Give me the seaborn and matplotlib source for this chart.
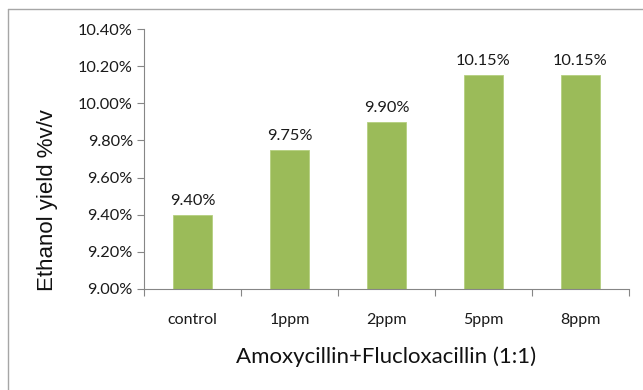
import matplotlib
matplotlib.use("Agg")
import matplotlib.pyplot as plt
from matplotlib.lines import Line2D
from matplotlib.ticker import FuncFormatter, MultipleLocator
import seaborn as sns
import pandas as pd

# Ethanol yield by antibiotic dose
categories = ["control", "1ppm", "2ppm", "5ppm", "8ppm"]
yield_pct = [9.40, 9.75, 9.90, 10.15, 10.15]
value_labels = ["9.40%", "9.75%", "9.90%", "10.15%", "10.15%"]

df = pd.DataFrame({"dose": categories, "yield": yield_pct})

sns.set_theme(style="white")
plt.rcParams["font.family"] = ["Lato", "DejaVu Sans"]

fig = plt.figure(figsize=(6.43, 3.90), dpi=100)
ax = fig.add_axes([144 / 643, 1 - 289 / 390, (629 - 144) / 643, (289 - 29) / 390])

bar_color = "#9BBB59"
sns.barplot(data=df, x="dose", y="yield", color=bar_color, width=0.4,
            saturation=1, ax=ax, edgecolor="#B5CF7F", linewidth=0.6)

ax.set_ylim(9.0, 10.4)
ax.set_xlim(-0.5, len(categories) - 0.5)
ax.yaxis.set_major_locator(MultipleLocator(0.2))
ax.yaxis.set_major_formatter(FuncFormatter(lambda v, p: f"{v:.2f}%"))

# value annotations above each bar
for i, (v, txt) in enumerate(zip(yield_pct, value_labels)):
    ax.annotate(txt, (i, v), xytext=(0, 5), textcoords="offset points",
                ha="center", va="bottom", fontsize=11.8, color="#1a1a1a")

# x ticks sit on category boundaries
ax.set_xticks(range(len(categories)))
ax.set_xticklabels(categories)
ax.set_xticks([i - 0.5 for i in range(len(categories) + 1)], minor=True)
ax.tick_params(axis="x", which="major", length=0, pad=17, labelsize=11.5,
               labelcolor="#1a1a1a")
ax.tick_params(axis="x", which="minor", length=5, width=0.8, color="#868686",
               direction="out", bottom=True)
ax.tick_params(axis="y", which="major", length=5, width=0.8, color="#868686",
               direction="out", left=True, labelsize=11.7, labelcolor="#1a1a1a",
               pad=3)

for s in ["top", "right"]:
    ax.spines[s].set_visible(False)
for s in ["left", "bottom"]:
    ax.spines[s].set_color("#868686")
    ax.spines[s].set_linewidth(0.8)

ax.set_xlabel("Amoxycillin+Flucloxacillin (1:1)", fontsize=16, color="#111111",
              labelpad=14)
ax.set_ylabel("")
fig.text(48 / 643, 1 - 200 / 390, "Ethanol yield %v/v", rotation=90,
         ha="center", va="center", fontsize=16, color="#111111",
         family=["Liberation Sans", "DejaVu Sans"])

# chart-area frame edges
fig.add_artist(Line2D([8 / 643, 8 / 643], [0, 1 - 8.5 / 390],
                      transform=fig.transFigure, color="#A6A6A6", lw=1))
fig.add_artist(Line2D([8 / 643, 1], [1 - 8.5 / 390, 1 - 8.5 / 390],
                      transform=fig.transFigure, color="#A6A6A6", lw=1))

fig.savefig("out.png", dpi=100)
